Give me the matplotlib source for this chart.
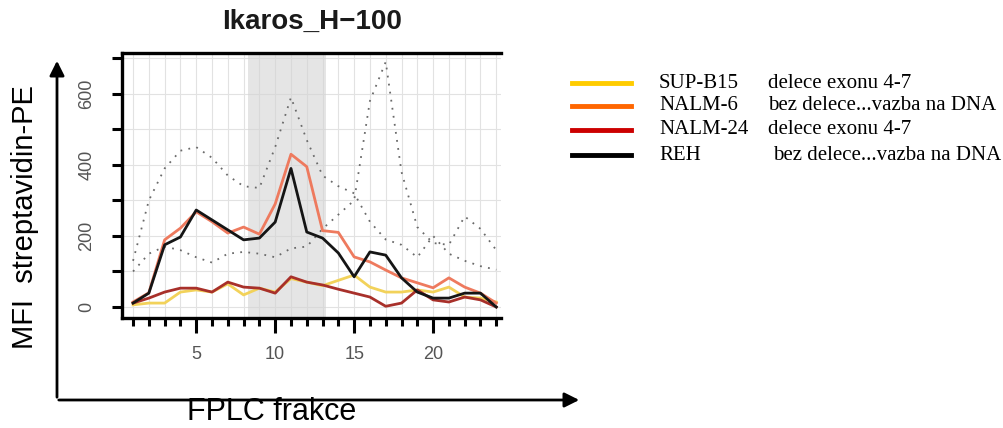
import matplotlib
matplotlib.use("Agg")
import matplotlib.pyplot as plt
from matplotlib.lines import Line2D

# ---------------- data ----------------
fractions = list(range(1, 25))

sup_b15 = [6, 11, 11, 42, 48, 42, 65, 34, 53, 42, 80, 70, 60, 75, 90, 56, 42, 42, 48, 42, 56, 28, 25, 14]
nalm6 = [14, 40, 189, 222, 268, 240, 208, 225, 205, 290, 430, 395, 215, 210, 141, 127, 104, 82, 68, 54, 82, 56, 39, 11]
nalm24 = [11, 25, 42, 53, 53, 42, 70, 56, 53, 39, 85, 70, 62, 50, 39, 28, 2, 11, 48, 20, 14, 28, 20, 0]
reh = [11, 39, 175, 197, 273, 245, 217, 189, 194, 239, 390, 211, 194, 152, 85, 155, 146, 82, 42, 25, 25, 39, 39, 0]

dotted_a = [130, 300, 390, 440, 450, 420, 370, 340, 335, 450, 590, 470, 370, 340, 320, 240, 190, 175, 140, 200, 150, 130, 115, 105]
dotted_b = [100, 150, 170, 160, 140, 125, 150, 155, 150, 140, 165, 170, 220, 260, 300, 580, 690, 380, 225, 180, 175, 255, 220, 160]

series_names = ["SUP-B15", "NALM-6", "NALM-24", "REH"]
series_notes = ["delece exonu 4-7", "bez delece...vazba na DNA", "delece exonu 4-7", "bez delece...vazba na DNA"]
legend_colors = ["#FFCC00", "#FF6600", "#CC0000", "#000000"]
plot_colors = ["#F2D25A", "#EE7A5E", "#A8302A", "#151515"]

shade_range = (8.3, 13.2)
yticks_major = [0, 200, 400, 600]
yticks_minor = [100, 300, 500, 700]
xticks_major = [5, 10, 15, 20]

W, H = 1004, 428

def fx(px):
    return px / W

def fy(py):
    return 1 - py / H

fig = plt.figure(figsize=(W / 100, H / 100), dpi=100)
fig.patch.set_facecolor("white")

# axes area in pixels: left 122, right 501, top 53, bottom 318
ax = fig.add_axes([fx(122), fy(318), (501 - 122) / W, (318 - 53) / H])
ax.set_xlim(0.3, 24.3)
ax.set_ylim(-31, 715)

# grid
ax.set_axisbelow(True)
for xv in fractions:
    ax.axvline(xv, color="#E2E2E2", lw=0.8, zorder=0)
for yv in range(0, 701, 100):
    ax.axhline(yv, color="#E2E2E2", lw=0.8, zorder=0)
ax.axvspan(shade_range[0], shade_range[1], color="#D4D4D4", alpha=0.6, lw=0, zorder=0.5)

# dotted series
for d in (dotted_a, dotted_b):
    ax.plot(fractions, d, color="#6A6A6A", lw=1.3, ls=(0, (1, 3.5)), zorder=1)

for vals, c in zip([sup_b15, nalm6, nalm24, reh], plot_colors):
    ax.plot(fractions, vals, color=c, lw=2.0, zorder=2, solid_joinstyle="round")

# spines
for s in ("left", "top", "bottom"):
    ax.spines[s].set_linewidth(2.4)
    ax.spines[s].set_color("black")
ax.spines["right"].set_visible(False)

ax.set_yticks(yticks_major)
ax.set_yticks(yticks_minor, minor=True)
ax.set_yticklabels([str(v) for v in yticks_major], rotation=90, va="center",
                   color="#555555", fontsize=13, family="Liberation Sans")
ax.tick_params(axis="y", which="both", direction="out", length=7, width=2.2, color="black", pad=12)

ax.set_xticks(xticks_major)
ax.set_xticks(fractions, minor=True)
ax.set_xticklabels([str(v) for v in xticks_major], color="#555555", fontsize=13,
                   family="Liberation Sans")
ax.tick_params(axis="x", which="major", direction="out", length=11, width=2.2, color="black", pad=9)
ax.tick_params(axis="x", which="minor", direction="out", length=6, width=2.2, color="black")

# title
fig.text(fx(312), fy(22), "Ikaros_H\u2212100", ha="center", va="center", fontsize=20,
         fontweight="bold", family="Liberation Sans", color="#1A1A1A")

# outer arrows
fig.add_artist(matplotlib.patches.FancyArrowPatch((fx(57), fy(400)), (fx(57), fy(58)),
               transform=fig.transFigure, arrowstyle="-|>", mutation_scale=22, lw=2, color="black"))
fig.add_artist(matplotlib.patches.FancyArrowPatch((fx(56), fy(400)), (fx(582), fy(400)),
               transform=fig.transFigure, arrowstyle="-|>", mutation_scale=22, lw=2, color="black"))

fig.text(fx(25), fy(217), "MFI  streptavidin-PE", rotation=90, ha="center", va="center",
         fontsize=21, family="Liberation Sans", color="black")
fig.text(fx(272), fy(412), "FPLC frakce", ha="center", va="center",
         fontsize=22, family="Liberation Sans", color="black")

# legend (manual)
leg_y = [83, 106, 130, 155]
for yy, name, note, c in zip(leg_y, series_names, series_notes, legend_colors):
    fig.add_artist(Line2D([fx(572), fx(631)], [fy(yy), fy(yy)], color=c, lw=3.5, transform=fig.transFigure))
    fig.text(fx(659), fy(yy), name, ha="left", va="center", fontsize=15,
             family="Liberation Serif", color="black")
    note_x = 773 if name == "REH" else 768
    fig.text(fx(note_x), fy(yy), note, ha="left", va="center", fontsize=15,
             family="Liberation Serif", color="black")

fig.savefig("out.png", dpi=100)
